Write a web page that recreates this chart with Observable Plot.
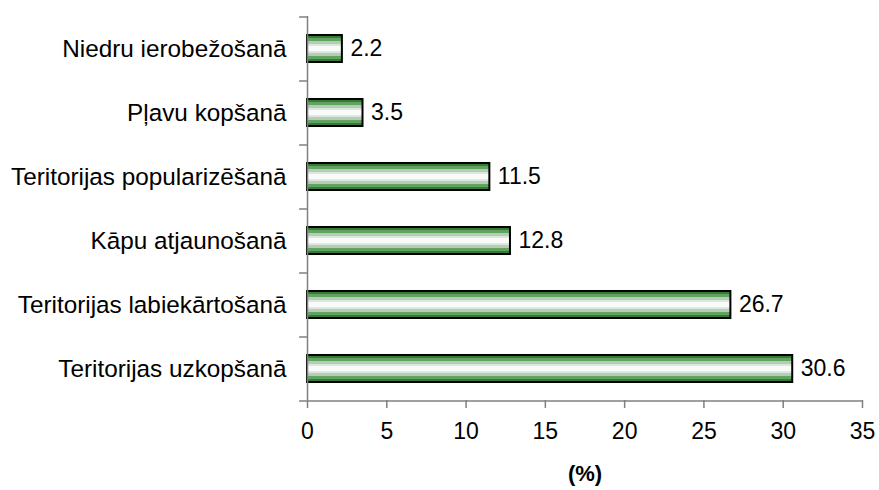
<!DOCTYPE html>
<html>
<head>
<meta charset="utf-8">
<script src="https://cdn.jsdelivr.net/npm/d3@7"></script>
<script src="https://cdn.jsdelivr.net/npm/@observablehq/plot@0.6"></script>
<style>
  html, body { margin: 0; padding: 0; background: #fff; }
  #chart svg { display: block; }
</style>
</head>
<body>
<div id="chart"></div>
<script>
const categories = [
  "Niedru ierobežošanā",
  "Pļavu kopšanā",
  "Teritorijas popularizēšanā",
  "Kāpu atjaunošanā",
  "Teritorijas labiekārtošanā",
  "Teritorijas uzkopšanā"
];
const values = [2.2, 3.5, 11.5, 12.8, 26.7, 30.6];
const xTicks = [0, 5, 10, 15, 20, 25, 30, 35];
const axisTitle = "(%)";

const data = categories.map((c, i) => ({category: c, value: values[i]}));

const W = 879, H = 490, mTop = 16, mBottom = 90;
const step = (H - mTop - mBottom) / categories.length;
const axisColor = "#808080";

const chart = Plot.plot({
  width: W,
  height: H,
  marginLeft: 307,
  marginRight: 17,
  marginTop: mTop,
  marginBottom: mBottom,
  style: {fontFamily: "'Liberation Sans', Arial, sans-serif", fontSize: "23px", color: "#000", background: "#fff"},
  x: {domain: [0, 35], ticks: xTicks},
  y: {domain: categories, paddingInner: 0.58, paddingOuter: 0.29, label: null},
  marks: [
    Plot.barX(data, {y: "category", x: "value", fill: "url(#barGrad)", stroke: "#000", strokeWidth: 2}),
    Plot.text(data, {y: "category", x: "value", text: d => d.value.toFixed(1), textAnchor: "start", dx: 8, fill: "#000"}),
    Plot.ruleX([0], {stroke: axisColor, strokeWidth: 1.5}),
    Plot.ruleY(categories, {y: d => d, x1: -0.5, x2: 0, dy: -step / 2, stroke: axisColor, strokeWidth: 1.5}),
    Plot.ruleY([categories[categories.length - 1]], {y: d => d, x1: -0.5, x2: 35, dy: step / 2, stroke: axisColor, strokeWidth: 1.5}),
    Plot.axisX({ticks: xTicks, tickSize: 8, tickPadding: 14, stroke: axisColor, strokeWidth: 1.5, label: null, fill: "#000"}),
    Plot.axisY({tickSize: 0, tickPadding: 21, label: null, fill: "#000", fontSize: 24.3}),
    Plot.text([axisTitle], {frameAnchor: "bottom", dy: 80, fontWeight: "bold", fill: "#000", fontSize: 22})
  ]
});

const defs = d3.select(chart).insert("defs", ":first-child");
const grad = defs.append("linearGradient").attr("id", "barGrad")
  .attr("x1", 0).attr("y1", 0).attr("x2", 0).attr("y2", 1);
const bandsTop = [
  [0.00, "#2f7f2f"],
  [0.10, "#62a262"],
  [0.22, "#b4cdb4"],
  [0.33, "#dde8dd"],
  [0.42, "#f9fbf9"]
];
const stops = [];
bandsTop.forEach(([o, c], i) => {
  const next = i < bandsTop.length - 1 ? bandsTop[i + 1][0] : 0.5;
  stops.push([o, c], [next, c]);
});
const mirrored = stops.slice().reverse().map(([o, c]) => [1 - o, c]);
stops.concat(mirrored).forEach(([o, c]) => {
  grad.append("stop").attr("offset", o).attr("stop-color", c);
});

document.getElementById("chart").appendChild(chart);
</script>
</body>
</html>
